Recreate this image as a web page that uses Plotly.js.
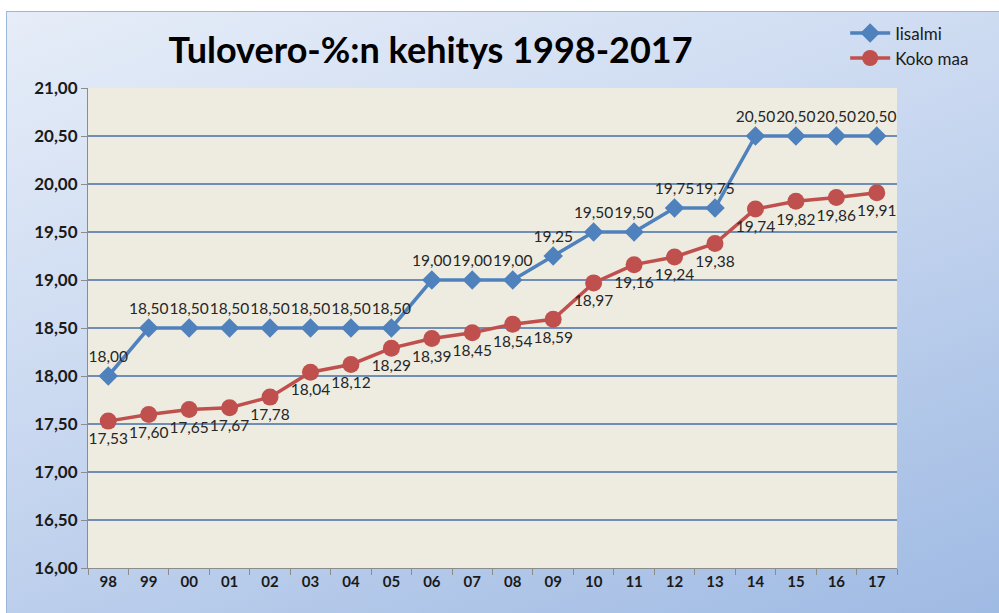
<!DOCTYPE html>
<html>
<head>
<meta charset="utf-8">
<script src="https://cdn.plot.ly/plotly-3.0.1.min.js"></script>
<style>
html,body{margin:0;padding:0;background:#ffffff;}
#bg{position:absolute;left:6px;top:11px;width:993px;height:602px;
background:linear-gradient(160deg,#e6edf8 0%,#c9d8f0 45%,#9fbae3 100%);
border-top:1px solid #9db6dc;border-left:1px solid #9db6dc;}
#chart{position:absolute;left:0;top:0;width:999px;height:613px;}
</style>
</head>
<body>
<div id="bg"></div>
<div id="chart"></div>
<script>
const categories = ["98","99","00","01","02","03","04","05","06","07","08","09","10","11","12","13","14","15","16","17"];
const iisalmi = [18.00,18.50,18.50,18.50,18.50,18.50,18.50,18.50,19.00,19.00,19.00,19.25,19.50,19.50,19.75,19.75,20.50,20.50,20.50,20.50];
const kokoMaa = [17.53,17.60,17.65,17.67,17.78,18.04,18.12,18.29,18.39,18.45,18.54,18.59,18.97,19.16,19.24,19.38,19.74,19.82,19.86,19.91];
const yTicks = [16,16.5,17,17.5,18,18.5,19,19.5,20,20.5,21];

const labelFont = {family:"Lato, 'Open Sans', sans-serif", size:15.5, color:"#262626"};

const traces = [
 {x:categories, y:iisalmi, name:"Iisalmi", type:"scatter", mode:"lines+markers+text",
  line:{color:"#4F81BD", width:3.5},
  marker:{symbol:"diamond", size:15, color:"#4F81BD"},
  texttemplate:"%{y:.2f}", textposition:"top center", textfont:labelFont, cliponaxis:false},
 {x:categories, y:kokoMaa, name:"Koko maa", type:"scatter", mode:"lines+markers+text",
  line:{color:"#C0504D", width:3.5},
  marker:{symbol:"circle", size:17, color:"#C0504D"},
  texttemplate:"%{y:.2f}", textposition:"bottom center", textfont:labelFont, cliponaxis:false}
];

const layout = {
 width:999, height:613,
 margin:{l:88, r:102, t:88, b:45, autoexpand:false},
 paper_bgcolor:"rgba(0,0,0,0)",
 plot_bgcolor:"#EEECE1",
 separators:", ",
 showlegend:true,
 title:{text:"<b>Tulovero-%:n kehitys 1998-2017</b>", x:0.431, xanchor:"center", y:0.918, yanchor:"middle",
   font:{family:"Lato, 'Open Sans', sans-serif", size:36, color:"#000000"}},
 legend:{xref:"container", yref:"container", x:0.846, y:0.975, xanchor:"left", yanchor:"top",
   bgcolor:"rgba(0,0,0,0)", font:{family:"Lato, 'Open Sans', sans-serif", size:17, color:"#1a1a1a"},
   tracegroupgap:8, itemwidth:40},
 xaxis:{type:"category", range:[-0.5,19.5], tickson:"boundaries", ticks:"outside", ticklen:6, tickcolor:"#8c8c8c",
   showline:true, linecolor:"#8c8c8c", linewidth:1, showgrid:false,
   tickfont:{family:"Lato, 'Open Sans', sans-serif", size:15, color:"#1a1a1a", weight:"bold"}},
 yaxis:{range:[16,21], tickvals:yTicks, tickformat:".2f", ticks:"outside", ticklen:6, tickcolor:"#8c8c8c",
   showline:true, linecolor:"#8c8c8c", linewidth:1, showgrid:true, gridcolor:"#6f8fb6", gridwidth:1.3,
   zeroline:false,
   tickfont:{family:"Lato, 'Open Sans', sans-serif", size:17, color:"#1a1a1a", weight:"bold"}}
};

Plotly.newPlot("chart", traces, layout, {displayModeBar:false, staticPlot:true});
</script>
</body>
</html>
